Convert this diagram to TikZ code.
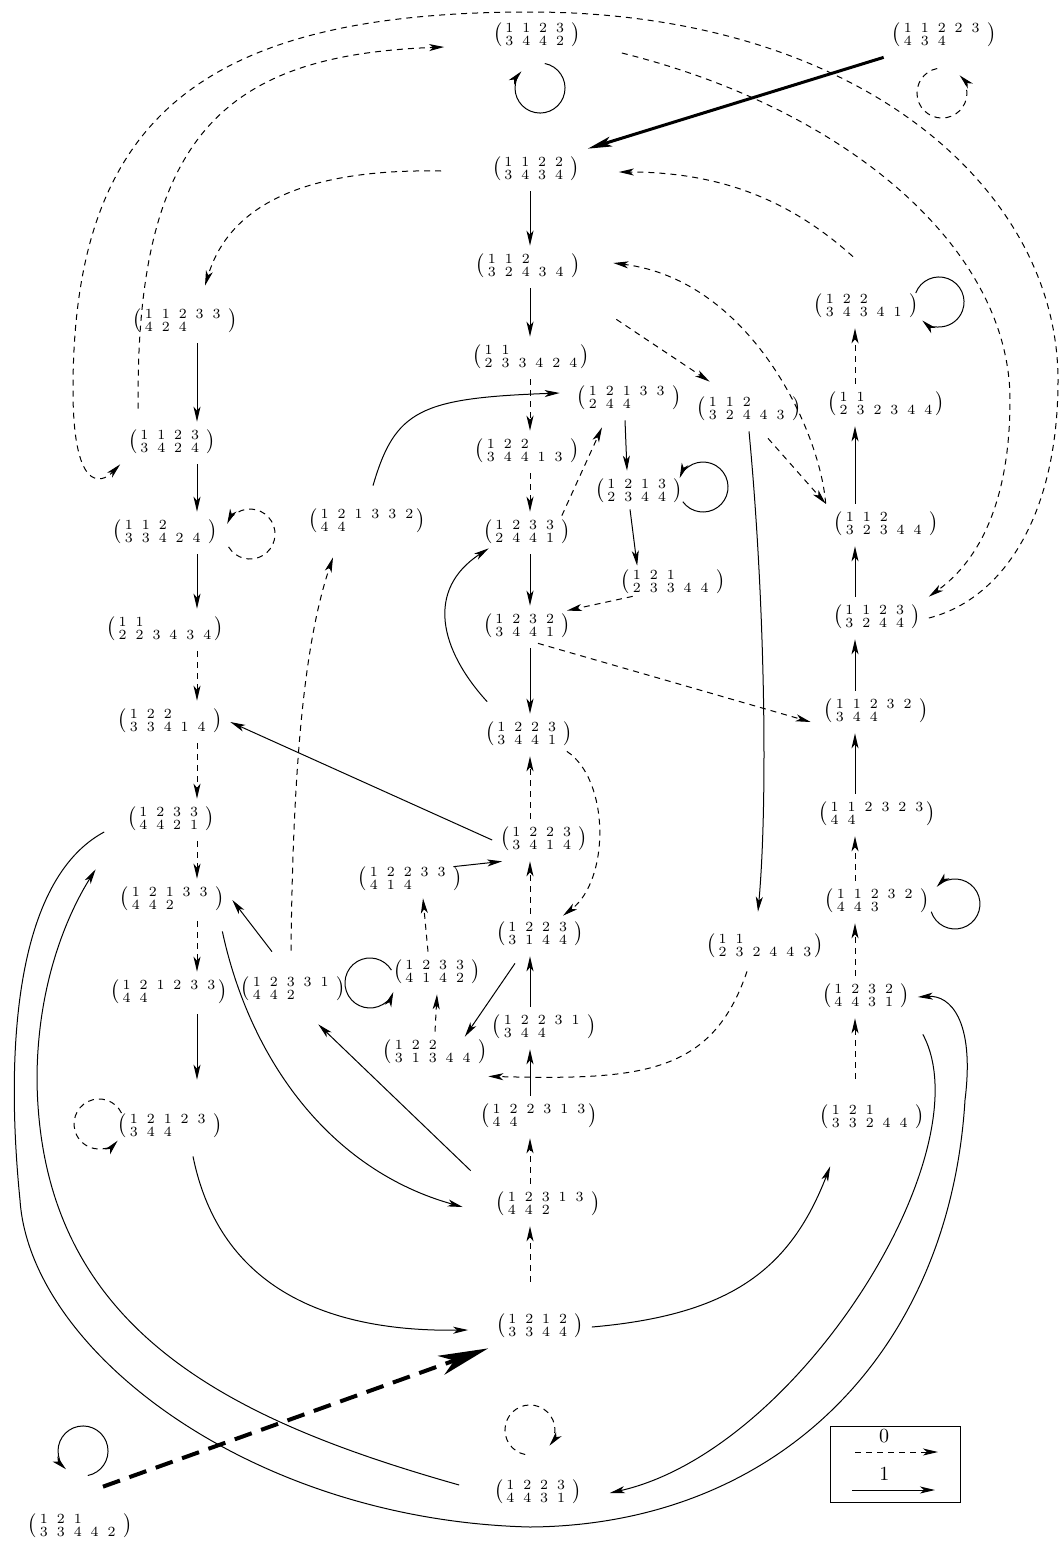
\documentclass[tikz,border=0pt]{standalone}
\usepackage{tikz}
\usetikzlibrary{arrows.meta}

\newcommand{\twoline}[2]{$\bigl(\kern1.5pt\mbox{\scriptsize\setlength{\tabcolsep}{2.25pt}%
  \renewcommand{\arraystretch}{0.8}\begin{tabular}{@{}*{6}{l}@{}}#1\\#2\end{tabular}}\kern1.5pt\bigr)$}

\begin{document}
\begin{tikzpicture}[x=0.5pt, y=-0.5pt, line width=0.5pt,
    word/.style={inner sep=4pt, outer sep=0pt},
    one/.style={-{Stealth[length=7.5pt,width=3.5pt,inset=2pt]}},
    zero/.style={one, dash pattern=on 3pt off 2.5pt},
    heavy/.style={line width=1.5pt, -{Stealth[length=12pt,width=5pt,inset=3pt]}},
    heavyzero/.style={line width=2pt, dash pattern=on 9pt off 5pt,
      -{Stealth[length=25pt,width=10pt,inset=7pt]}}]
  \useasboundingbox (0,0) rectangle (1060,1543);
  \coordinate (lc) at (197,0);
  \coordinate (mc) at (530,0);
  \coordinate (rc) at (855,0);

  \node[word] (a) at (537,36) {\twoline{1&1&2&3}{3&4&4&2}};
  \node[word] (b) at (944,36) {\twoline{1&1&2&2&3}{4&3&4}};
  \node[word] (c) at (536,170) {\twoline{1&1&2&2}{3&4&3&4}};
  \node[word] (d) at (528,267) {\twoline{1&1&2}{3&2&4&3&4}};
  \node[word] (e) at (185,322) {\twoline{1&1&2&3&3}{4&2&4}};
  \node[word] (f) at (866,307) {\twoline{1&2&2}{3&4&3&4&1}};
  \node[word] (g) at (531,358) {\twoline{1&1}{2&3&3&4&2&4}};
  \node[word] (h) at (629,399) {\twoline{1&2&1&3&3}{2&4&4}};
  \node[word] (i) at (749,410) {\twoline{1&1&2}{3&2&4&4&3}};
  \node[word] (j) at (886,405) {\twoline{1&1}{2&3&2&3&4&4}};
  \node[word] (k) at (172,443) {\twoline{1&1&2&3}{3&4&2&4}};
  \node[word] (l) at (527,452) {\twoline{1&2&2}{3&4&4&1&3}};
  \node[word] (m) at (165,533) {\twoline{1&1&2}{3&3&4&2&4}};
  \node[word] (n) at (367,522) {\twoline{1&2&1&3&3&2}{4&4}};
  \node[word] (o) at (639,492) {\twoline{1&2&1&3}{2&3&4&4}};
  \node[word] (p) at (886,525) {\twoline{1&1&2}{3&2&3&4&4}};
  \node[word] (q) at (527,533) {\twoline{1&2&3&3}{2&4&4&1}};
  \node[word] (r) at (673,583) {\twoline{1&2&1}{2&3&3&4&4}};
  \node[word] (s) at (527,627) {\twoline{1&2&3&2}{3&4&4&1}};
  \node[word] (t) at (877,618) {\twoline{1&1&2&3}{3&2&4&4}};
  \node[word] (u) at (165,630) {\twoline{1&1}{2&2&3&4&3&4}};
  \node[word] (v) at (876,712) {\twoline{1&1&2&3&2}{3&4&4}};
  \node[word] (w) at (529,735) {\twoline{1&2&2&3}{3&4&4&1}};
  \node[word] (x) at (170,722) {\twoline{1&2&2}{3&3&4&1&4}};
  \node[word] (y) at (171,820) {\twoline{1&2&3&3}{4&4&2&1}};
  \node[word] (z) at (877,815) {\twoline{1&1&2&3&2&3}{4&4}};
  \node[word] (aa) at (544,840) {\twoline{1&2&2&3}{3&4&1&4}};
  \node[word] (ab) at (410,880) {\twoline{1&2&2&3&3}{4&1&4}};
  \node[word] (ac) at (172,900) {\twoline{1&2&1&3&3}{4&4&2}};
  \node[word] (ad) at (877,902) {\twoline{1&1&2&3&2}{4&4&3}};
  \node[word] (ae) at (540,935) {\twoline{1&2&2&3}{3&1&4&4}};
  \node[word] (af) at (765,947) {\twoline{1&1}{2&3&2&4&4&3}};
  \node[word] (ag) at (293,990) {\twoline{1&2&3&3&1}{4&4&2}};
  \node[word] (ah) at (437,973) {\twoline{1&2&3&3}{4&1&4&2}};
  \node[word] (ai) at (169,993) {\twoline{1&2&1&2&3&3}{4&4}};
  \node[word] (aj) at (544,1028) {\twoline{1&2&2&3&1}{3&4&4}};
  \node[word] (ak) at (435,1053) {\twoline{1&2&2}{3&1&3&4&4}};
  \node[word] (al) at (866,997) {\twoline{1&2&3&2}{4&4&3&1}};
  \node[word] (am) at (539,1117) {\twoline{1&2&2&3&1&3}{4&4}};
  \node[word] (an) at (170,1127) {\twoline{1&2&1&2&3}{3&4&4}};
  \node[word] (ao) at (872,1118) {\twoline{1&2&1}{3&3&2&4&4}};
  \node[word] (ap) at (548,1205) {\twoline{1&2&3&1&3}{4&4&2}};
  \node[word] (aq) at (540,1327) {\twoline{1&2&1&2}{3&3&4&4}};
  \node[word] (ar) at (538,1493) {\twoline{1&2&2&3}{4&4&3&1}};
  \node[word] (as) at (80,1527) {\twoline{1&2&1}{3&3&4&4&2}};

  \draw[one] (c.south -| mc) -- (d.north -| mc);
  \draw[one] (d.south -| mc) -- (g.north -| mc);
  \draw[zero] (g.south -| mc) -- (l.north -| mc);
  \draw[zero] (l.south -| mc) -- (q.north -| mc);
  \draw[one] (q.south -| mc) -- (s.north -| mc);
  \draw[one] (s.south -| mc) -- (w.north -| mc);
  \draw[zero] (aa.north -| mc) -- (w.south -| mc);
  \draw[zero] (ae.north -| mc) -- (aa.south -| mc);
  \draw[one] (aj.north -| mc) -- (ae.south -| mc);
  \draw[one] (am.north -| mc) -- (aj.south -| mc);
  \draw[zero] (ap.north -| mc) -- (am.south -| mc);
  \draw[zero, shorten <=12pt] (aq.north -| mc) -- (ap.south -| mc);

  \draw[zero] (j.north -| rc) -- (f.south -| rc);
  \draw[one] (p.north -| rc) -- (j.south -| rc);
  \draw[one] (t.north -| rc) -- (p.south -| rc);
  \draw[one] (v.north -| rc) -- (t.south -| rc);
  \draw[one] (z.north -| rc) -- (v.south -| rc);
  \draw[zero] (ad.north -| rc) -- (z.south -| rc);
  \draw[zero] (al.north -| rc) -- (ad.south -| rc);
  \draw[zero, shorten <=9pt] (ao.north -| rc) -- (al.south -| rc);

  \draw[one] (e.south -| lc) -- (k.north -| lc);
  \draw[one] (k.south -| lc) -- (m.north -| lc);
  \draw[one] (m.south -| lc) -- (u.north -| lc);
  \draw[zero] (u.south -| lc) -- (x.north -| lc);
  \draw[zero] (x.south -| lc) -- (y.north -| lc);
  \draw[zero] (y.south -| lc) -- (ac.north -| lc);
  \draw[zero] (ac.south -| lc) -- (ai.north -| lc);
  \draw[one, shorten >=13pt] (ai.south -| lc) -- (an.north -| lc);

  \draw[zero] (t.east) .. controls (1000,600) and (1058,520) .. (1058,380)
    .. controls (1058,190) and (860,12) .. (530,12)
    .. controls (200,12) and (73,120) .. (73,390)
    .. controls (73,490) and (100,485) .. (k.south west);
  \draw[zero] ([shift={(33,17)}]a.east) .. controls (850,110) and (1010,250) .. (1010,400)
    .. controls (1010,500) and (980,560) .. (t.north east);
  \draw[zero] ([shift={(18,-13)}]k.north west) .. controls (135,130) and (230,55) .. ([shift={(-41,11)}]a.west);
  \draw[zero] ([shift={(-43,1)}]c.west) .. controls (280,168) and (225,220) .. ([shift={(20,-15)}]e.north);
  \draw[heavy] (b.south west) -- (c.north east);
  \draw[zero] ([shift={(-13,-29)}]f.north) .. controls (790,200) and (720,172) .. ([shift={(31,2)}]c.east);
  \draw[zero] (p.north west) .. controls (820,430) and (750,280) .. ([shift={(25,-4)}]d.east);
  \draw[zero] ([shift={(28,31)}]d.south east) -- ([shift={(21,-7)}]i.north west);
  \draw[zero] ([shift={(19,7)}]i.south) -- (p.north west);
  \draw[one] (i.south) .. controls (765,600) and (768,800) .. ([shift={(-7,-14)}]af.north);
  \draw[zero] ([shift={(11,-5)}]s.south) -- ([shift={(-5,10)}]v.west);
  \draw[zero] ([shift={(20,-8)}]r.south west) -- ([shift={(-12,5)}]s.north east);
  \draw[one] ([shift={(-9,-4)}]o.south) -- ([shift={(24.5,4)}]r.north west);
  \draw[one] ([shift={(-4,0)}]h.south) -- ([shift={(-12,0)}]o.north);
  \draw[zero] ([shift={(-17,4)}]q.north east) -- ([shift={(-27,7)}]h.south);
  \draw[one] ([shift={(10,-12)}]w.north west) .. controls (440,650) and (425,590) .. ([shift={(13.5,-6)}]q.south west);
  \draw[one] ([shift={(6,-15)}]n.north) .. controls (395,410) and (420,398) .. ([shift={(-9,-6)}]h.west);
  \draw[one] (aa.west) -- (x.east);
  \draw[one] ([shift={(-17,8)}]ab.north east) -- ([shift={(10,0)}]aa.south west);
  \draw[one] ([shift={(-21,-17)}]ag.north) -- (ac.east);
  \draw[zero] ([shift={(-2,-18)}]ag.north) .. controls (293,760) and (305,640) .. ([shift={(-34,14)}]n.south);
  \draw[zero] (ak.north) -- (ah.south);
  \draw[zero] ([shift={(-9,0)}]ah.north) -- ([shift={(13,-3)}]ab.south);
  \draw[one] ([shift={(-25,7)}]ae.south) -- ([shift={(-30.5,5)}]ak.north east);
  \draw[zero] ([shift={(-14,-5)}]w.south east) .. controls (610,780) and (610,880) .. ([shift={(23,2)}]ae.north);
  \draw[zero] ([shift={(-18,3)}]af.south) .. controls (712,1075) and (640,1080) .. ([shift={(-7,2)}]ak.south east);
  \draw[one] ([shift={(-17,-13)}]ap.north west) -- ([shift={(-35,13)}]ag.south east);
  \draw[one] ([shift={(-10,10)}]ac.south east) .. controls (250,1060) and (330,1170) .. ([shift={(-25,2)}]ap.west);
  \draw[one] ([shift={(23,8)}]an.south) .. controls (220,1290) and (330,1332) .. ([shift={(-20,3)}]aq.west);
  \draw[heavyzero] ([shift={(23,-19)}]as.north) -- (aq.south west);
  \draw[one] (aq.east) .. controls (730,1315) and (790,1270) .. ([shift={(18.5,27)}]ao.south west);
  \draw[one] ([shift={(-27,-8)}]ar.west) .. controls (230,1420) and (40,1330) .. (37,1080)
    .. controls (37,980) and (70,910) .. ([shift={(-23.5,28)}]y.south west);
  \draw[one] ([shift={(-15,12)}]y.west) .. controls (15,880) and (5,1050) .. (20,1200)
    .. controls (30,1350) and (250,1520) .. (530,1527)
    .. controls (780,1525) and (950,1350) .. (965,1100)
    .. controls (975,1020) and (950,995) .. (al.east);
  \draw[one] ([shift={(5,16)}]al.south east) .. controls (985,1150) and (800,1450) .. ([shift={(20,0)}]ar.east);

  \draw[one] ([shift={(7.8,27.5)}]a.center) arc[start angle=-79, end angle=222, radius=25];
  \draw[zero] ([shift={(-6.8,32.5)}]b.center) arc[start angle=-101, end angle=-405, radius=25];
  \draw[one] ([shift={(49.7,-14)}]f.center) arc[start angle=-159, end angle=132, radius=25];
  \draw[one] ([shift={(43.8,9.7)}]o.center) arc[start angle=144, end angle=-159, radius=25];
  \draw[zero] ([shift={(63.6,13.9)}]m.center) arc[start angle=149, end angle=-156, radius=25];
  \draw[one] ([shift={(54.2,9.7)}]ad.center) arc[start angle=162, end angle=-137, radius=25];
  \draw[zero] ([shift={(-48.5,-14)}]an.center) arc[start angle=-26, end angle=-318, radius=25];
  \draw[one] ([shift={(-45.6,-2.9)}]ah.center) arc[start angle=-31, end angle=-339, radius=25];
  \draw[one] ([shift={(7.8,-51.5)}]as.center) arc[start angle=79, end angle=-227, radius=25];
  \draw[zero] ([shift={(-12.8,-38.5)}]ar.center) arc[start angle=101, end angle=399, radius=25];

  \node[draw, minimum width=65pt, minimum height=38pt, inner sep=0pt] (key) at (895,1464) {};
  \draw[zero] ([shift={(-40,-12)}]key.center) -- ([shift={(43,-12)}]key.center)
    node[pos=0.35, above=1pt] {0};
  \draw[one] ([shift={(-43,26)}]key.center) -- ([shift={(40,26)}]key.center)
    node[pos=0.39, above=1pt] {1};
\end{tikzpicture}
\end{document}
